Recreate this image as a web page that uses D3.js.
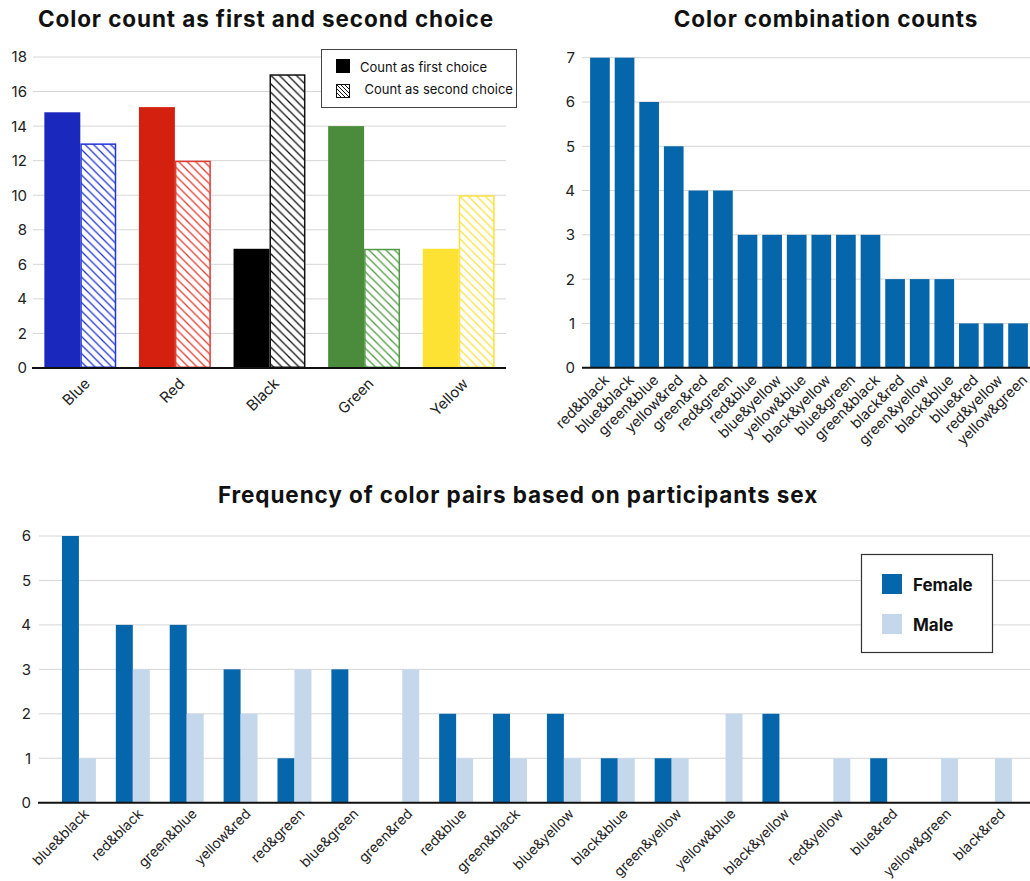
<!DOCTYPE html>
<html>
<head>
<meta charset="utf-8">
<script src="https://cdn.jsdelivr.net/npm/d3@7"></script>
<style>
  html, body { margin: 0; padding: 0; background: #fff; }
  svg { display: block; font-family: Inter, "Noto Sans", sans-serif; }
  .grid line { stroke: #d6d6d6; stroke-width: 1; }
  .tick-label { font-size: 15px; fill: #222; }
  .title { font-size: 22.5px; font-weight: 700; fill: #111; letter-spacing: 0.9px; }
</style>
</head>
<body>
<svg id="chart" width="1030" height="881"></svg>
<script>
// ---- Chart 1: colour count as first and second choice ----
const colorNames = ["Blue", "Red", "Black", "Green", "Yellow"];
const firstChoice = [14.8, 15.1, 6.9, 14, 6.9];
const secondChoice = [13, 12, 17, 6.9, 10];
const colorTicks = [0, 2, 4, 6, 8, 10, 12, 14, 16, 18];
const fillColors = ["#1b28bd", "#d4200f", "#000000", "#4a8c3b", "#fde234"];
const hatchColors = ["#2234d6", "#e23a2e", "#111111", "#4f9a43", "#fbe23c"];

// ---- Chart 2: colour combination counts ----
const comboNames = ["red&black", "blue&black", "green&blue", "yellow&red", "green&red", "red&green",
  "red&blue", "blue&yellow", "yellow&blue", "black&yellow", "blue&green", "green&black",
  "black&red", "green&yellow", "black&blue", "blue&red", "red&yellow", "yellow&green"];
const comboCounts = [7, 7, 6, 5, 4, 4, 3, 3, 3, 3, 3, 3, 2, 2, 2, 1, 1, 1];
const comboTicks = [0, 1, 2, 3, 4, 5, 6, 7];

// ---- Chart 3: colour pairs by participants' sex ----
const pairNames = ["blue&black", "red&black", "green&blue", "yellow&red", "red&green", "blue&green",
  "green&red", "red&blue", "green&black", "blue&yellow", "black&blue", "green&yellow",
  "yellow&blue", "black&yellow", "red&yellow", "blue&red", "yellow&green", "black&red"];
const femaleCounts = [6, 4, 4, 3, 1, 3, 0, 2, 2, 2, 1, 1, 0, 2, 0, 1, 0, 0];
const maleCounts = [1, 3, 2, 2, 3, 0, 3, 1, 1, 1, 1, 1, 2, 0, 1, 0, 1, 1];
const sexNames = ["Female", "Male"];
const sexColors = ["#0566ab", "#c5d8eb"];
const pairTicks = [0, 1, 2, 3, 4, 5, 6];

const svg = d3.select("#chart");
const defs = svg.append("defs");

// diagonal hatch patterns, one per colour
hatchColors.forEach((c, i) => {
  const p = defs.append("pattern")
    .attr("id", "hatch" + i)
    .attr("patternUnits", "userSpaceOnUse")
    .attr("width", 8.5).attr("height", 8.5);
  p.append("rect").attr("width", 8.5).attr("height", 8.5).attr("fill", "#fff");
  p.append("path")
    .attr("d", "M-2,-2L10.5,10.5M-2,6.5L2,10.5M6.5,-2L10.5,2")
    .attr("stroke", c).attr("stroke-width", 1.3).attr("fill", "none");
});
const legendHatch = defs.append("pattern")
  .attr("id", "hatchLegend")
  .attr("patternUnits", "userSpaceOnUse")
  .attr("width", 4).attr("height", 4);
legendHatch.append("rect").attr("width", 4).attr("height", 4).attr("fill", "#fff");
legendHatch.append("path").attr("d", "M-1,-1L5,5M-1,3L1,5M3,-1L5,1")
  .attr("stroke", "#111").attr("stroke-width", 1).attr("fill", "none");

function drawYAxis(g, y, ticks, x0, x1, labelX) {
  const grid = g.append("g").attr("class", "grid");
  grid.selectAll("line").data(ticks.filter(t => t !== 0)).join("line")
    .attr("x1", x0).attr("x2", x1)
    .attr("y1", d => y(d)).attr("y2", d => y(d));
  g.append("g").selectAll("text").data(ticks).join("text")
    .attr("class", "tick-label")
    .attr("x", labelX).attr("y", d => y(d))
    .attr("dy", "0.36em")
    .attr("text-anchor", "end")
    .text(d => d);
}

function drawBaseline(g, y, x0, x1) {
  g.append("line")
    .attr("x1", x0).attr("x2", x1)
    .attr("y1", y(0)).attr("y2", y(0))
    .attr("stroke", "#111").attr("stroke-width", 2);
}

function drawXLabels(g, names, xc, y0, dx, dy, size) {
  g.append("g").selectAll("text").data(names).join("text")
    .attr("transform", d => `translate(${xc(d) + dx},${y0 + dy}) rotate(-45)`)
    .attr("text-anchor", "end")
    .attr("dy", "0.71em")
    .attr("font-size", size)
    .attr("fill", "#222")
    .text(d => d);
}

// ================= Chart 1 =================
{
  const g = svg.append("g");
  const x = d3.scaleBand().domain(colorNames).range([33, 506]).paddingInner(0.24).paddingOuter(0.12);
  const y = d3.scaleLinear().domain([0, 18]).range([368, 57]);
  const inner = d3.scaleBand().domain(["first", "second"]).range([0, x.bandwidth()]);

  drawYAxis(g, y, colorTicks, 33, 506, 27);

  g.append("text").attr("class", "title")
    .attr("x", 266).attr("y", 27).attr("text-anchor", "middle")
    .text("Color count as first and second choice");

  const rows = colorNames.map((n, i) => ({ name: n, i, first: firstChoice[i], second: secondChoice[i] }));
  g.append("g").selectAll("rect").data(rows).join("rect")
    .attr("x", d => x(d.name) + inner("first"))
    .attr("y", d => y(d.first))
    .attr("width", inner.bandwidth())
    .attr("height", d => y(0) - y(d.first))
    .attr("fill", d => fillColors[d.i]);
  g.append("g").selectAll("rect").data(rows).join("rect")
    .attr("x", d => x(d.name) + inner("second") + 0.75)
    .attr("y", d => y(d.second) + 0.75)
    .attr("width", inner.bandwidth() - 1.5)
    .attr("height", d => y(0) - y(d.second) - 1.5)
    .attr("fill", d => `url(#hatch${d.i})`)
    .attr("stroke", d => hatchColors[d.i])
    .attr("stroke-width", 1.5);

  drawBaseline(g, y, 32, 506);
  drawXLabels(g, colorNames, n => x(n) + x.bandwidth() / 2, y(0), 3, 9, 15);

  // legend
  const lg = g.append("g");
  lg.append("rect").attr("x", 321.5).attr("y", 49.5).attr("width", 195).attr("height", 58)
    .attr("fill", "#fff").attr("stroke", "#444").attr("stroke-width", 1);
  lg.append("rect").attr("x", 336).attr("y", 59).attr("width", 14).attr("height", 14).attr("fill", "#000");
  lg.append("rect").attr("x", 336.5).attr("y", 84.5).attr("width", 13).attr("height", 13)
    .attr("fill", "url(#hatchLegend)").attr("stroke", "#111").attr("stroke-width", 1);
  lg.append("text").attr("x", 360).attr("y", 71.5).attr("font-size", 13).attr("fill", "#111")
    .text("Count as first choice");
  lg.append("text").attr("x", 364.5).attr("y", 93.5).attr("font-size", 13).attr("fill", "#111")
    .text("Count as second choice");
}

// ================= Chart 2 =================
{
  const g = svg.append("g");
  const x = d3.scaleBand().domain(comboNames).range([582, 1036]).paddingInner(0.2).paddingOuter(0.33);
  const y = d3.scaleLinear().domain([0, 7]).range([367.7, 57.7]);

  drawYAxis(g, y, comboTicks, 582, 1030, 575);

  g.append("text").attr("class", "title")
    .attr("x", 826).attr("y", 27).attr("text-anchor", "middle")
    .text("Color combination counts");

  g.append("g").selectAll("rect").data(comboNames).join("rect")
    .attr("x", d => x(d))
    .attr("y", (d, i) => y(comboCounts[i]))
    .attr("width", x.bandwidth())
    .attr("height", (d, i) => y(0) - y(comboCounts[i]))
    .attr("fill", "#0566ab");

  drawBaseline(g, y, 582, 1030);
  drawXLabels(g, comboNames, n => x(n) + x.bandwidth() / 2, y(0), 3, 6, 14.5);
}

// ================= Chart 3 =================
{
  const g = svg.append("g");
  const x = d3.scaleBand().domain(pairNames).range([38, 1030]).paddingInner(0.37).paddingOuter(0.39).align(0.57);
  const inner = d3.scaleBand().domain(sexNames).range([0, x.bandwidth()]);
  const y = d3.scaleLinear().domain([0, 6]).range([802.7, 536]);

  drawYAxis(g, y, pairTicks, 39, 1030, 31);

  g.append("text").attr("class", "title")
    .attr("x", 518).attr("y", 503).attr("text-anchor", "middle")
    .text("Frequency of color pairs based on participants sex");

  const series = [femaleCounts, maleCounts];
  series.forEach((vals, s) => {
    g.append("g").selectAll("rect").data(pairNames).join("rect")
      .attr("x", d => x(d) + inner(sexNames[s]))
      .attr("y", (d, i) => y(vals[i]))
      .attr("width", inner.bandwidth())
      .attr("height", (d, i) => y(0) - y(vals[i]))
      .attr("fill", sexColors[s]);
  });

  drawBaseline(g, y, 38, 1030);
  drawXLabels(g, pairNames, n => x(n) + x.bandwidth() / 2, y(0), 4, 5, 14);

  // legend
  const lg = g.append("g");
  lg.append("rect").attr("x", 861.5).attr("y", 554.5).attr("width", 131).attr("height", 98)
    .attr("fill", "#fff").attr("stroke", "#333").attr("stroke-width", 1.2);
  sexNames.forEach((n, i) => {
    lg.append("rect").attr("x", 882).attr("y", 574 + i * 40).attr("width", 20).attr("height", 20)
      .attr("fill", sexColors[i]);
    lg.append("text").attr("x", 913).attr("y", 591 + i * 40)
      .attr("font-size", 17).attr("font-weight", 700).attr("fill", "#111")
      .text(n);
  });
}
</script>
</body>
</html>
